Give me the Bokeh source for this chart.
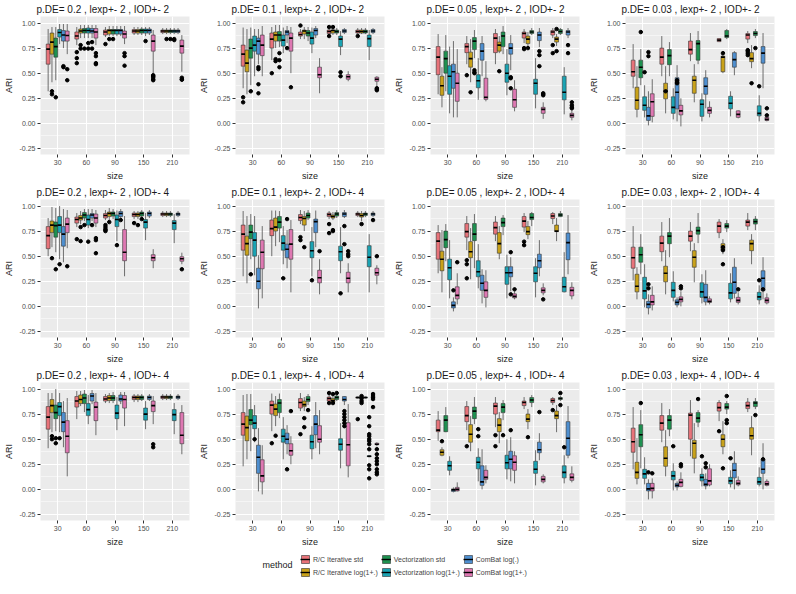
from bokeh.plotting import figure
from bokeh.layouts import gridplot, column
from bokeh.models import (FixedTicker, Legend, LegendItem, ColumnDataSource,
                          Label, PrintfTickFormatter)
from bokeh.embed import file_html
from bokeh.resources import INLINE

SIZES = ["30", "60", "90", "150", "210"]
METHODS = ["R/C Iterative std", "R/C Iterative log(1+.)", "Vectorization std",
           "Vectorization log(1+.)", "ComBat log(.)", "ComBat log(1+.)"]
COLORS = ["#E8737A", "#C9A21A", "#1E9150", "#1AA3B3", "#4E8FD0", "#DE78B2"]
TITLES = [
    "p.DE= 0.2 , lexp+- 2 , IOD+- 2", "p.DE= 0.1 , lexp+- 2 , IOD+- 2",
    "p.DE= 0.05 , lexp+- 2 , IOD+- 2", "p.DE= 0.03 , lexp+- 2 , IOD+- 2",
    "p.DE= 0.2 , lexp+- 2 , IOD+- 4", "p.DE= 0.1 , lexp+- 2 , IOD+- 4",
    "p.DE= 0.05 , lexp+- 2 , IOD+- 4", "p.DE= 0.03 , lexp+- 2 , IOD+- 4",
    "p.DE= 0.2 , lexp+- 4 , IOD+- 4", "p.DE= 0.1 , lexp+- 4 , IOD+- 4",
    "p.DE= 0.05 , lexp+- 4 , IOD+- 4", "p.DE= 0.03 , lexp+- 4 , IOD+- 4",
]
Y_TICKS = [-0.25, 0.0, 0.25, 0.5, 0.75, 1.0]
Y_MINOR = [-0.125, 0.125, 0.375, 0.625, 0.875]

# each panel: 6 methods x 5 sizes of (lower whisker, q1, median, q3, upper whisker)
BOX_01 = [
    [(0.32, 0.59, 0.74, 0.79, 0.94), (0.78, 0.84, 0.87, 0.91, 0.96), (0.86, 0.88, 0.91, 0.93, 0.96), (0.88, 0.90, 0.92, 0.935, 0.96), (0.89, 0.905, 0.92, 0.93, 0.95)],
    [(0.41, 0.69, 0.81, 0.90, 0.96), (0.85, 0.90, 0.92, 0.94, 0.98), (0.87, 0.89, 0.925, 0.935, 0.97), (0.88, 0.90, 0.92, 0.935, 0.96), (0.89, 0.905, 0.92, 0.93, 0.95)],
    [(0.43, 0.66, 0.765, 0.85, 0.96), (0.85, 0.90, 0.925, 0.945, 0.98), (0.87, 0.89, 0.925, 0.935, 0.97), (0.88, 0.90, 0.925, 0.94, 0.96), (0.89, 0.905, 0.92, 0.93, 0.95)],
    [(0.79, 0.86, 0.905, 0.935, 0.99), (0.85, 0.90, 0.925, 0.95, 0.98), (0.87, 0.89, 0.925, 0.935, 0.97), (0.87, 0.90, 0.925, 0.94, 0.96), (0.89, 0.905, 0.92, 0.93, 0.95)],
    [(0.75, 0.82, 0.88, 0.925, 0.99), (0.85, 0.90, 0.92, 0.945, 0.98), (0.87, 0.89, 0.925, 0.935, 0.97), (0.88, 0.90, 0.925, 0.94, 0.96), (0.89, 0.905, 0.92, 0.93, 0.95)],
    [(0.69, 0.82, 0.875, 0.92, 0.99), (0.78, 0.85, 0.91, 0.945, 0.98), (0.79, 0.85, 0.89, 0.92, 0.97), (0.50, 0.72, 0.82, 0.88, 0.93), (0.515, 0.70, 0.77, 0.83, 0.88)],
]
OUT_01 = [(0, 1, [0.32, 0.29]), (0, 2, [0.26]), (0, 4, [0.57, 0.56]), (0, 5, [0.54, 0.43]),
          (1, 0, [0.71, 0.65, 0.60]), (1, 1, [0.78, 0.745]), (1, 2, [0.745]), (1, 3, [0.745, 0.80]),
          (1, 4, [0.81, 0.745]), (1, 5, [0.70, 0.67, 0.60, 0.59]), (2, 0, [0.79]), (2, 1, [0.84]),
          (2, 2, [0.84]), (2, 5, [0.70, 0.67, 0.575]), (3, 3, [0.82]),
          (3, 5, [0.48, 0.47, 0.46, 0.44, 0.43]), (4, 1, [0.84]), (4, 2, [0.84]), (4, 3, [0.84, 0.83]),
          (4, 5, [0.455, 0.44, 0.435])]

BOX_02 = [
    [(0.35, 0.57, 0.69, 0.78, 0.955), (0.63, 0.75, 0.84, 0.90, 0.96), (0.84, 0.87, 0.885, 0.91, 0.94), (0.88, 0.895, 0.915, 0.93, 0.95), (0.89, 0.90, 0.915, 0.93, 0.95)],
    [(0.29, 0.515, 0.60, 0.73, 0.94), (0.75, 0.82, 0.88, 0.91, 0.98), (0.84, 0.89, 0.92, 0.93, 0.96), (0.88, 0.90, 0.925, 0.93, 0.95), (0.89, 0.90, 0.915, 0.93, 0.95)],
    [(0.38, 0.65, 0.75, 0.84, 0.955), (0.76, 0.82, 0.88, 0.915, 0.98), (0.82, 0.87, 0.90, 0.925, 0.96), (0.88, 0.90, 0.915, 0.93, 0.95), (0.89, 0.90, 0.915, 0.93, 0.95)],
    [(0.47, 0.72, 0.78, 0.87, 0.94), (0.70, 0.77, 0.83, 0.88, 0.955), (0.70, 0.79, 0.85, 0.91, 0.955), (0.68, 0.765, 0.84, 0.87, 0.92), (0.63, 0.765, 0.845, 0.88, 0.93)],
    [(0.59, 0.69, 0.82, 0.85, 0.94), (0.80, 0.88, 0.91, 0.925, 0.97), (0.85, 0.88, 0.925, 0.945, 0.97), (0.89, 0.905, 0.92, 0.935, 0.95), (0.89, 0.905, 0.92, 0.935, 0.95)],
    [(0.47, 0.675, 0.78, 0.88, 0.97), (0.50, 0.72, 0.85, 0.90, 0.96), (0.30, 0.455, 0.485, 0.56, 0.65), (0.42, 0.44, 0.465, 0.485, 0.52), (0.36, 0.42, 0.44, 0.46, 0.47)],
]
OUT_02 = [(0, 0, [0.26, 0.21]), (0, 2, [0.32]), (0, 4, [0.56, 0.54, 0.39, 0.30]), (1, 0, [0.50]),
          (1, 1, [0.64, 0.62]), (1, 2, [0.70, 0.63, 0.56]), (1, 4, [0.75]), (1, 5, [0.36]),
          (2, 0, [0.975]), (3, 0, [0.96, 0.87]), (3, 1, [0.96]), (3, 3, [0.51, 0.47]),
          (4, 0, [0.87]), (4, 5, [0.35, 0.34, 0.33])]

BOX_03 = [
    [(0.29, 0.485, 0.66, 0.765, 0.89), (0.59, 0.705, 0.765, 0.795, 0.87), (0.59, 0.705, 0.85, 0.895, 0.94), (0.80, 0.85, 0.895, 0.91, 0.94), (0.85, 0.88, 0.91, 0.925, 0.95)],
    [(0.16, 0.28, 0.375, 0.47, 0.56), (0.41, 0.56, 0.645, 0.71, 0.84), (0.70, 0.72, 0.78, 0.81, 0.87), (0.74, 0.795, 0.84, 0.87, 0.91), (0.77, 0.81, 0.84, 0.86, 0.89)],
    [(0.32, 0.50, 0.645, 0.72, 0.88), (0.65, 0.735, 0.82, 0.855, 0.93), (0.69, 0.765, 0.87, 0.91, 0.97), (0.88, 0.895, 0.91, 0.925, 0.95), (0.88, 0.895, 0.915, 0.935, 0.95)],
    [(0.10, 0.29, 0.47, 0.575, 0.765), (0.235, 0.355, 0.425, 0.485, 0.65), (0.28, 0.41, 0.50, 0.59, 0.74), (0.15, 0.29, 0.40, 0.44, 0.65), (0.09, 0.235, 0.31, 0.47, 0.56)],
    [(0.06, 0.35, 0.515, 0.59, 0.82), (0.47, 0.63, 0.72, 0.795, 0.87), (0.53, 0.69, 0.75, 0.795, 0.88), (0.76, 0.825, 0.88, 0.91, 0.95), (0.85, 0.88, 0.91, 0.925, 0.95)],
    [(0.06, 0.22, 0.40, 0.50, 0.74), (0.22, 0.24, 0.26, 0.45, 0.62), (0.12, 0.16, 0.235, 0.34, 0.43), (0.045, 0.10, 0.14, 0.16, 0.21), (0.03, 0.06, 0.08, 0.10, 0.13)],
]
OUT_03 = [(1, 0, [0.48]), (1, 1, [0.31]), (1, 2, [0.53, 0.51, 0.50]), (2, 1, [0.52]),
          (2, 4, [0.46, 0.45, 0.35]), (3, 0, [0.75, 0.74]), (3, 1, [0.75]),
          (3, 4, [0.72, 0.68, 0.57]), (3, 5, [0.30, 0.29, 0.28]), (4, 0, [0.78, 0.70]),
          (4, 1, [0.94, 0.72]), (4, 4, [0.78, 0.70]), (4, 5, [0.21, 0.18, 0.16, 0.15])]

BOX_04 = [
    [(0.35, 0.47, 0.515, 0.63, 0.79), (0.47, 0.59, 0.66, 0.75, 0.87), (0.62, 0.69, 0.735, 0.82, 0.90), (0.81, 0.815, 0.83, 0.845, 0.85), (0.80, 0.84, 0.88, 0.895, 0.92)],
    [(0.06, 0.14, 0.23, 0.36, 0.57), (0.10, 0.245, 0.32, 0.40, 0.57), (0.21, 0.30, 0.43, 0.47, 0.59), (0.50, 0.515, 0.66, 0.67, 0.69), (0.55, 0.615, 0.645, 0.705, 0.78)],
    [(0.38, 0.455, 0.56, 0.63, 0.74), (0.47, 0.585, 0.675, 0.735, 0.81), (0.59, 0.63, 0.795, 0.825, 0.92), (0.84, 0.855, 0.87, 0.925, 0.94), (0.85, 0.875, 0.895, 0.915, 0.94)],
    [(0.06, 0.13, 0.18, 0.265, 0.38), (0.04, 0.10, 0.16, 0.265, 0.35), (0.02, 0.07, 0.19, 0.235, 0.30), (0.07, 0.145, 0.20, 0.27, 0.32), (0.02, 0.075, 0.10, 0.175, 0.28)],
    [(-0.02, 0.03, 0.075, 0.16, 0.32), (0.02, 0.145, 0.31, 0.455, 0.58), (0.15, 0.29, 0.37, 0.455, 0.53), (0.48, 0.56, 0.635, 0.705, 0.72), (0.35, 0.60, 0.70, 0.765, 0.90)],
    [(0.01, 0.07, 0.215, 0.295, 0.44), (-0.03, 0.085, 0.125, 0.18, 0.25), (0.06, 0.10, 0.13, 0.16, 0.22), (0.05, 0.06, 0.09, 0.125, 0.13), (0.02, 0.03, 0.04, 0.06, 0.07)],
]
OUT_04 = [(0, 2, [0.91]), (0, 3, [0.51]), (0, 4, [0.71, 0.67]), (1, 1, [0.32]),
          (1, 4, [0.43, 0.41, 0.40]), (3, 1, [0.70]), (4, 0, [0.73, 0.72, 0.70, 0.68]),
          (4, 1, [0.40]), (4, 2, [0.75]), (4, 3, [0.37]), (4, 5, [0.15, 0.08])]

BOX_05 = [
    [(0.50, 0.575, 0.705, 0.795, 0.88), (0.79, 0.83, 0.865, 0.89, 0.93), (0.86, 0.88, 0.905, 0.925, 0.96), (0.87, 0.895, 0.915, 0.93, 0.95), (0.89, 0.905, 0.92, 0.93, 0.95)],
    [(0.59, 0.735, 0.81, 0.85, 0.99), (0.82, 0.86, 0.88, 0.905, 0.95), (0.86, 0.895, 0.925, 0.94, 0.98), (0.87, 0.895, 0.915, 0.93, 0.95), (0.89, 0.905, 0.92, 0.93, 0.95)],
    [(0.54, 0.69, 0.805, 0.84, 0.98), (0.85, 0.88, 0.91, 0.935, 0.97), (0.87, 0.90, 0.925, 0.94, 0.97), (0.88, 0.90, 0.925, 0.94, 0.96), (0.89, 0.905, 0.92, 0.93, 0.95)],
    [(0.47, 0.735, 0.81, 0.895, 1.0), (0.78, 0.81, 0.865, 0.91, 0.97), (0.65, 0.795, 0.865, 0.91, 0.955), (0.66, 0.78, 0.84, 0.865, 0.93), (0.63, 0.765, 0.83, 0.855, 0.92)],
    [(0.44, 0.60, 0.72, 0.795, 0.97), (0.85, 0.88, 0.91, 0.925, 0.97), (0.87, 0.895, 0.925, 0.945, 0.97), (0.88, 0.90, 0.925, 0.94, 0.96), (0.89, 0.905, 0.92, 0.93, 0.95)],
    [(0.58, 0.735, 0.82, 0.88, 0.96), (0.79, 0.83, 0.88, 0.92, 0.96), (0.30, 0.455, 0.54, 0.765, 0.90), (0.38, 0.455, 0.485, 0.515, 0.57), (0.42, 0.45, 0.475, 0.495, 0.535)],
]
OUT_05 = [(0, 1, [0.48]), (0, 2, [0.37]), (0, 3, [0.42]), (0, 5, [0.40]), (1, 0, [0.67]),
          (1, 1, [0.65, 0.79]), (1, 2, [0.81]), (1, 3, [0.645]), (1, 4, [0.81]),
          (1, 5, [0.68, 0.66, 0.53]), (2, 0, [0.81, 0.79, 0.77, 0.76, 0.75]), (2, 1, [0.84]),
          (2, 3, [0.61]), (2, 4, [0.86]), (3, 0, [0.83]), (3, 1, [0.81]), (3, 2, [0.87]),
          (4, 5, [0.37])]

BOX_06 = [
    [(0.30, 0.56, 0.72, 0.81, 0.95), (0.50, 0.705, 0.775, 0.86, 0.955), (0.82, 0.855, 0.885, 0.915, 0.96), (0.87, 0.895, 0.915, 0.93, 0.95), (0.89, 0.905, 0.92, 0.93, 0.95)],
    [(0.23, 0.51, 0.625, 0.70, 0.90), (0.60, 0.75, 0.79, 0.88, 0.955), (0.75, 0.81, 0.875, 0.895, 0.95), (0.86, 0.88, 0.895, 0.91, 0.94), (0.85, 0.89, 0.905, 0.925, 0.95)],
    [(0.47, 0.675, 0.74, 0.81, 0.92), (0.64, 0.78, 0.84, 0.895, 0.95), (0.86, 0.88, 0.905, 0.93, 0.96), (0.88, 0.90, 0.92, 0.935, 0.96), (0.89, 0.905, 0.92, 0.93, 0.95)],
    [(0.31, 0.50, 0.66, 0.735, 0.90), (0.42, 0.56, 0.63, 0.705, 0.80), (0.30, 0.485, 0.555, 0.645, 0.79), (0.33, 0.455, 0.545, 0.60, 0.79), (0.14, 0.395, 0.49, 0.605, 0.72)],
    [(-0.02, 0.175, 0.25, 0.38, 0.51), (0.38, 0.485, 0.57, 0.62, 0.76), (0.59, 0.735, 0.845, 0.87, 0.955), (0.88, 0.895, 0.92, 0.935, 0.96), (0.89, 0.905, 0.92, 0.93, 0.95)],
    [(0.08, 0.375, 0.54, 0.66, 0.80), (0.14, 0.47, 0.62, 0.765, 0.86), (0.12, 0.235, 0.285, 0.36, 0.47), (0.14, 0.235, 0.28, 0.34, 0.43), (0.22, 0.31, 0.335, 0.38, 0.41)],
]
OUT_06 = [(0, 2, [0.32]), (1, 3, [0.28]), (1, 4, [0.87]), (2, 0, [0.69, 0.66]), (2, 1, [0.59]),
          (2, 3, [0.26]), (2, 5, [0.55]), (3, 0, [0.82, 0.73]), (3, 1, [0.76, 0.75]),
          (3, 3, [0.13]), (3, 4, [0.80, 0.62]), (3, 5, [0.55, 0.52, 0.50]), (4, 1, [0.82]),
          (4, 4, [0.86]), (4, 5, [0.50])]

BOX_07 = [
    [(0.33, 0.47, 0.65, 0.735, 0.81), (0.56, 0.69, 0.745, 0.825, 0.90), (0.65, 0.72, 0.785, 0.84, 0.90), (0.74, 0.79, 0.85, 0.895, 0.93), (0.82, 0.875, 0.90, 0.925, 0.94)],
    [(0.14, 0.355, 0.47, 0.55, 0.76), (0.27, 0.485, 0.545, 0.645, 0.78), (0.47, 0.53, 0.625, 0.735, 0.80), (0.67, 0.715, 0.745, 0.795, 0.85), (0.65, 0.745, 0.75, 0.81, 0.88)],
    [(0.45, 0.585, 0.665, 0.75, 0.82), (0.38, 0.655, 0.72, 0.825, 0.92), (0.71, 0.795, 0.835, 0.88, 0.91), (0.80, 0.865, 0.885, 0.925, 0.94), (0.89, 0.895, 0.91, 0.925, 0.95)],
    [(0.08, 0.265, 0.385, 0.47, 0.66), (0.18, 0.295, 0.345, 0.455, 0.62), (0.08, 0.22, 0.335, 0.395, 0.515), (0.09, 0.245, 0.33, 0.395, 0.48), (0.14, 0.145, 0.195, 0.29, 0.54)],
    [(-0.05, -0.015, 0.01, 0.045, 0.09), (0.03, 0.16, 0.23, 0.31, 0.37), (0.15, 0.295, 0.335, 0.395, 0.49), (0.30, 0.385, 0.455, 0.52, 0.66), (0.32, 0.465, 0.635, 0.73, 0.91)],
    [(0.02, 0.075, 0.11, 0.195, 0.33), (-0.01, 0.09, 0.16, 0.245, 0.36), (0.07, 0.085, 0.10, 0.125, 0.15), (0.11, 0.135, 0.16, 0.185, 0.23), (0.07, 0.105, 0.16, 0.19, 0.24)],
]
OUT_07 = [(0, 4, [0.16]), (0, 5, [0.44]), (1, 0, [0.46, 0.42, 0.28]), (2, 4, [0.54, 0.12]),
          (2, 5, [0.17]), (3, 0, [0.645, 0.61]), (3, 5, [0.07])]

BOX_08 = [
    [(0.26, 0.38, 0.485, 0.59, 0.80), (0.45, 0.545, 0.63, 0.70, 0.84), (0.55, 0.65, 0.70, 0.75, 0.84), (0.68, 0.735, 0.80, 0.84, 0.87), (0.76, 0.80, 0.84, 0.86, 0.93)],
    [(0.07, 0.145, 0.20, 0.32, 0.39), (0.12, 0.245, 0.33, 0.40, 0.56), (0.24, 0.39, 0.49, 0.555, 0.63), (0.52, 0.56, 0.59, 0.625, 0.67), (0.42, 0.555, 0.625, 0.66, 0.72)],
    [(0.32, 0.44, 0.515, 0.59, 0.72), (0.49, 0.625, 0.70, 0.735, 0.88), (0.63, 0.72, 0.755, 0.79, 0.93), (0.74, 0.78, 0.80, 0.825, 0.86), (0.76, 0.82, 0.845, 0.87, 0.90)],
    [(-0.01, 0.075, 0.155, 0.29, 0.42), (0.05, 0.09, 0.16, 0.24, 0.35), (0.03, 0.09, 0.145, 0.235, 0.32), (0.04, 0.075, 0.135, 0.23, 0.33), (0.02, 0.065, 0.095, 0.14, 0.21)],
    [(-0.08, -0.015, 0.02, 0.05, 0.12), (-0.01, 0.015, 0.04, 0.065, 0.09), (0.01, 0.045, 0.09, 0.22, 0.36), (0.08, 0.13, 0.24, 0.39, 0.48), (0.07, 0.155, 0.28, 0.355, 0.49)],
    [(-0.04, 0.015, 0.045, 0.11, 0.20), (0.0, 0.045, 0.07, 0.095, 0.15), (0.02, 0.04, 0.05, 0.075, 0.10), (0.02, 0.04, 0.06, 0.09, 0.14), (0.02, 0.035, 0.06, 0.085, 0.13)],
]
OUT_08 = [(0, 4, [0.22, 0.18]), (1, 5, [0.20, 0.18]), (3, 1, [0.59, 0.56, 0.42]),
          (3, 5, [0.17]), (4, 3, [0.26]), (4, 4, [0.17])]

BOX_09 = [
    [(0.41, 0.60, 0.72, 0.825, 0.96), (0.70, 0.82, 0.88, 0.925, 0.98), (0.86, 0.88, 0.90, 0.925, 0.95), (0.87, 0.895, 0.915, 0.93, 0.95), (0.89, 0.905, 0.92, 0.93, 0.95)],
    [(0.57, 0.765, 0.835, 0.895, 0.96), (0.83, 0.855, 0.895, 0.94, 0.98), (0.86, 0.885, 0.91, 0.935, 0.96), (0.87, 0.895, 0.915, 0.93, 0.95), (0.89, 0.905, 0.92, 0.93, 0.95)],
    [(0.58, 0.705, 0.765, 0.84, 1.0), (0.77, 0.855, 0.91, 0.95, 0.99), (0.86, 0.885, 0.91, 0.935, 0.97), (0.88, 0.895, 0.915, 0.93, 0.95), (0.89, 0.905, 0.92, 0.93, 0.95)],
    [(0.57, 0.735, 0.825, 0.865, 0.96), (0.65, 0.735, 0.795, 0.855, 0.94), (0.59, 0.705, 0.76, 0.84, 0.92), (0.60, 0.69, 0.75, 0.81, 0.88), (0.55, 0.685, 0.745, 0.795, 0.86)],
    [(0.42, 0.575, 0.67, 0.765, 0.88), (0.85, 0.88, 0.93, 0.955, 0.99), (0.85, 0.88, 0.90, 0.94, 0.97), (0.88, 0.895, 0.915, 0.93, 0.95), (0.89, 0.905, 0.92, 0.93, 0.95)],
    [(0.13, 0.365, 0.53, 0.685, 0.91), (0.54, 0.685, 0.82, 0.87, 0.96), (0.63, 0.81, 0.895, 0.935, 0.97), (0.65, 0.775, 0.835, 0.88, 0.93), (0.35, 0.455, 0.54, 0.765, 0.84)],
]
OUT_09 = [(0, 1, [0.53, 0.50]), (0, 2, [0.51, 0.46]), (0, 3, [0.51]), (3, 5, [0.45, 0.42])]

BOX_10 = [
    [(0.23, 0.54, 0.65, 0.765, 0.94), (0.58, 0.75, 0.84, 0.88, 0.955), (0.78, 0.81, 0.865, 0.905, 0.96), (0.87, 0.88, 0.905, 0.92, 0.95), (0.905, 0.91, 0.915, 0.92, 0.925)],
    [(0.30, 0.485, 0.615, 0.73, 0.95), (0.63, 0.735, 0.80, 0.85, 0.93), (0.78, 0.825, 0.845, 0.88, 0.92), (0.86, 0.87, 0.885, 0.905, 0.93), (0.905, 0.91, 0.915, 0.92, 0.925)],
    [(0.38, 0.645, 0.69, 0.795, 0.95), (0.71, 0.765, 0.86, 0.895, 0.955), (0.84, 0.875, 0.895, 0.925, 0.95), (0.88, 0.895, 0.915, 0.93, 0.95), (0.905, 0.91, 0.915, 0.92, 0.925)],
    [(0.47, 0.605, 0.66, 0.735, 0.84), (0.30, 0.47, 0.53, 0.60, 0.72), (0.30, 0.405, 0.475, 0.54, 0.63), (0.21, 0.39, 0.45, 0.505, 0.66), (0.32, 0.325, 0.33, 0.335, 0.34)],
    [(-0.02, 0.16, 0.32, 0.44, 0.61), (0.35, 0.455, 0.50, 0.56, 0.64), (0.41, 0.545, 0.65, 0.735, 0.87), (0.84, 0.88, 0.895, 0.925, 0.93), (0.905, 0.91, 0.915, 0.92, 0.925)],
    [(-0.05, 0.075, 0.135, 0.295, 0.44), (0.25, 0.34, 0.385, 0.455, 0.53), (0.35, 0.47, 0.50, 0.635, 0.79), (0.12, 0.235, 0.445, 0.665, 0.85), (0.43, 0.445, 0.45, 0.46, 0.47)],
]
OUT_10 = [(0, 3, [0.50]), (1, 0, [0.46]), (1, 1, [0.535]), (1, 4, [0.20]), (1, 5, [0.78]),
          (2, 0, [0.55]), (2, 1, [0.71, 0.62]), (2, 2, [0.79]), (3, 0, [0.96, 0.86]),
          (3, 1, [0.95, 0.86]), (3, 2, [0.96]), (3, 4, [0.78, 0.75, 0.72, 0.69, 0.66, 0.63]),
          (4, 0, [0.70]), (4, 1, [0.93, 0.905, 0.88, 0.86]),
          (4, 3, [0.72, 0.63, 0.55, 0.53, 0.50, 0.48, 0.45, 0.40, 0.24, 0.20, 0.11]),
          (4, 4, [0.95, 0.93, 0.90, 0.82]),
          (4, 5, [0.40, 0.35, 0.31, 0.28, 0.25, 0.20, 0.17, 0.15])]

BOX_11 = [
    [(0.485, 0.575, 0.59, 0.69, 0.78), (0.59, 0.675, 0.735, 0.825, 0.88), (0.62, 0.75, 0.83, 0.86, 0.92), (0.80, 0.835, 0.865, 0.88, 0.92), (0.84, 0.865, 0.885, 0.905, 0.92)],
    [(0.33, 0.34, 0.37, 0.395, 0.42), (0.38, 0.47, 0.55, 0.645, 0.73), (0.46, 0.575, 0.64, 0.705, 0.77), (0.60, 0.675, 0.70, 0.75, 0.80), (0.57, 0.705, 0.735, 0.78, 0.84)],
    [(0.57, 0.575, 0.69, 0.735, 0.82), (0.65, 0.705, 0.78, 0.82, 0.92), (0.69, 0.765, 0.82, 0.855, 0.89), (0.82, 0.865, 0.89, 0.915, 0.94), (0.88, 0.895, 0.905, 0.915, 0.93)],
    [(0.14, 0.19, 0.235, 0.28, 0.33), (0.08, 0.205, 0.27, 0.32, 0.41), (0.10, 0.205, 0.265, 0.34, 0.50), (0.04, 0.16, 0.20, 0.28, 0.39), (0.06, 0.115, 0.17, 0.235, 0.34)],
    [(-0.03, -0.02, -0.005, 0.005, 0.02), (0.0, 0.04, 0.075, 0.235, 0.40), (0.08, 0.205, 0.30, 0.38, 0.52), (0.29, 0.365, 0.395, 0.47, 0.56), (0.31, 0.34, 0.51, 0.675, 0.83)],
    [(-0.02, -0.015, 0.0, 0.02, 0.07), (0.06, 0.10, 0.12, 0.19, 0.24), (0.06, 0.19, 0.27, 0.335, 0.38), (0.06, 0.075, 0.10, 0.13, 0.15), (0.07, 0.09, 0.12, 0.155, 0.23)],
]
OUT_11 = [(0, 1, [0.48]), (1, 0, [0.43]), (1, 3, [0.60, 0.53]), (2, 0, [0.54, 0.43]),
          (2, 2, [0.54]), (2, 4, [0.59]), (3, 1, [0.52]), (3, 4, [0.77]), (4, 0, [0.79]),
          (4, 2, [0.96, 0.84]), (4, 3, [0.42])]

BOX_12 = [
    [(0.20, 0.37, 0.475, 0.61, 0.82), (0.47, 0.59, 0.66, 0.735, 0.86), (0.33, 0.50, 0.74, 0.76, 0.89), (0.68, 0.78, 0.815, 0.865, 0.89), (0.77, 0.805, 0.835, 0.87, 0.91)],
    [(0.05, 0.11, 0.17, 0.27, 0.51), (0.13, 0.23, 0.31, 0.425, 0.59), (0.16, 0.31, 0.46, 0.49, 0.66), (0.35, 0.425, 0.50, 0.545, 0.68), (0.34, 0.50, 0.535, 0.615, 0.73)],
    [(0.21, 0.425, 0.545, 0.645, 0.79), (0.53, 0.60, 0.69, 0.735, 0.80), (0.62, 0.67, 0.71, 0.765, 0.79), (0.75, 0.80, 0.82, 0.855, 0.88), (0.80, 0.825, 0.86, 0.875, 0.91)],
    [(0.05, 0.11, 0.155, 0.20, 0.32), (-0.01, 0.095, 0.135, 0.18, 0.26), (0.03, 0.085, 0.12, 0.15, 0.21), (0.02, 0.055, 0.085, 0.12, 0.19), (0.03, 0.05, 0.075, 0.12, 0.22)],
    [(-0.10, -0.015, 0.005, 0.06, 0.10), (-0.01, 0.025, 0.04, 0.06, 0.08), (0.0, 0.035, 0.05, 0.10, 0.16), (0.0, 0.115, 0.19, 0.26, 0.38), (0.0, 0.16, 0.20, 0.30, 0.46)],
    [(-0.09, -0.015, 0.01, 0.06, 0.11), (0.02, 0.03, 0.07, 0.10, 0.17), (0.03, 0.045, 0.085, 0.205, 0.25), (0.03, 0.045, 0.06, 0.09, 0.13), (0.03, 0.04, 0.055, 0.08, 0.10)],
]
OUT_12 = [(0, 2, [0.86]), (0, 4, [0.17]), (0, 5, [0.16]), (1, 3, [0.43]), (1, 5, [0.25, 0.23]),
          (2, 2, [0.90]), (2, 3, [0.33]), (2, 4, [0.26, 0.22]), (3, 0, [0.58]), (3, 1, [0.21]),
          (3, 2, [0.93, 0.69, 0.66]), (3, 3, [0.31]), (4, 2, [0.74]), (4, 4, [0.30])]

PANELS = [(BOX_01, OUT_01), (BOX_02, OUT_02), (BOX_03, OUT_03), (BOX_04, OUT_04),
          (BOX_05, OUT_05), (BOX_06, OUT_06), (BOX_07, OUT_07), (BOX_08, OUT_08),
          (BOX_09, OUT_09), (BOX_10, OUT_10), (BOX_11, OUT_11), (BOX_12, OUT_12)]

FONT = "Liberation Sans"
GROUP_W = 0.8
BW = GROUP_W / len(METHODS)
PW, PH = 195, 183


def offset(m):
    return (m - (len(METHODS) - 1) / 2.0) * BW


def make_panel(title, boxes, outs):
    p = figure(width=PW, height=PH, x_range=(0.4, 5.6), y_range=(-0.31, 1.065),
               output_backend="svg", toolbar_location=None, tools="", title=title,
               min_border_left=4, min_border_right=6, min_border_top=2, min_border_bottom=2)
    p.background_fill_color = "#EBEBEB"
    p.border_fill_color = "white"
    p.outline_line_color = None
    p.title.text_font = FONT
    p.title.text_font_size = "10px"
    p.title.text_font_style = "normal"
    p.title.text_color = "#1A1A1A"
    p.title.align = "left"
    p.title.standoff = 3
    p.title.offset = -4

    xt = list(range(1, len(SIZES) + 1))
    p.xaxis.ticker = FixedTicker(ticks=xt)
    p.xaxis.major_label_overrides = {i + 1: s for i, s in enumerate(SIZES)}
    p.yaxis.ticker = FixedTicker(ticks=Y_TICKS)
    p.yaxis.formatter = PrintfTickFormatter(format="%.2f")
    p.xgrid.ticker = FixedTicker(ticks=xt)
    p.ygrid.ticker = FixedTicker(ticks=Y_TICKS, minor_ticks=Y_MINOR)
    for g in (p.xgrid, p.ygrid):
        g.grid_line_color = "white"
        g.grid_line_width = 1
    p.ygrid.minor_grid_line_color = "white"
    p.ygrid.minor_grid_line_width = 0.5

    p.xaxis.axis_label = "size"
    p.yaxis.axis_label = "ARI"
    for ax in (p.xaxis, p.yaxis):
        ax.axis_line_color = None
        ax.major_tick_line_color = "#333333"
        ax.major_tick_out = 3
        ax.major_tick_in = 0
        ax.minor_tick_line_color = None
        ax.major_label_text_font = FONT
        ax.major_label_text_font_size = "7px"
        ax.major_label_text_color = "#4D4D4D"
        ax.major_label_standoff = 2
        ax.axis_label_text_font = FONT
        ax.axis_label_text_font_size = "9px"
        ax.axis_label_text_font_style = "normal"
        ax.axis_label_text_color = "#1A1A1A"
        ax.axis_label_standoff = 3

    d = dict(x=[], xl=[], xr=[], lo=[], q1=[], med=[], q3=[], hi=[], color=[])
    for m, row in enumerate(boxes):
        for s, (lo, q1, med, q3, hi) in enumerate(row):
            x = s + 1 + offset(m)
            d["x"].append(x)
            d["xl"].append(x - BW / 2)
            d["xr"].append(x + BW / 2)
            d["lo"].append(lo)
            d["q1"].append(q1)
            d["med"].append(med)
            d["q3"].append(q3)
            d["hi"].append(hi)
            d["color"].append(COLORS[m])
    src = ColumnDataSource(d)
    p.segment(x0="x", y0="q3", x1="x", y1="hi", source=src, line_color="#4D4D4D", line_width=0.8)
    p.segment(x0="x", y0="q1", x1="x", y1="lo", source=src, line_color="#4D4D4D", line_width=0.8)
    p.quad(left="xl", right="xr", bottom="q1", top="q3", source=src, fill_color="color",
           line_color="#333333", line_width=0.6)
    p.segment(x0="xl", y0="med", x1="xr", y1="med", source=src, line_color="black", line_width=1.6)

    ox, oy = [], []
    for s, m, vals in outs:
        for v in vals:
            ox.append(s + 1 + offset(m))
            oy.append(v)
    p.scatter(ox, oy, size=3.5, color="black")
    return p


figs = [make_panel(t, b, o) for t, (b, o) in zip(TITLES, PANELS)]
grid = gridplot(figs, ncols=4, toolbar_location=None)

leg = figure(width=4 * PW, height=29, output_backend="svg", toolbar_location=None, tools="",
             x_range=(0, 1), y_range=(0, 1), min_border=0)
leg.axis.visible = False
leg.grid.visible = False
leg.outline_line_color = None
items = []
for name, col in zip(METHODS, COLORS):
    # placeholder glyphs kept outside the visible range; they only feed the legend keys
    r1 = leg.quad(left=[-3], right=[-2], top=[-2], bottom=[-3], fill_color=col,
                  line_color="#333333", line_width=0.6)
    r2 = leg.line(x=[-3, -2], y=[-3, -2], line_color="black", line_width=1.4)
    items.append(LegendItem(label=name, renderers=[r1, r2]))
legend = Legend(items=items, orientation="vertical", nrows=2, location=(300, 1),
                glyph_width=10, glyph_height=10, label_text_font=FONT,
                label_text_font_size="7px", label_height=10, label_standoff=3,
                spacing=3, padding=0, margin=0, border_line_color=None,
                background_fill_alpha=0)
leg.add_layout(legend, "center")
leg.add_layout(Label(x=262, y=9, x_units="screen", y_units="screen", text="method",
                     text_font=FONT, text_font_size="9px", text_color="#1A1A1A"))

layout = column(grid, leg)
open("out.html", "w").write(file_html(layout, INLINE))
